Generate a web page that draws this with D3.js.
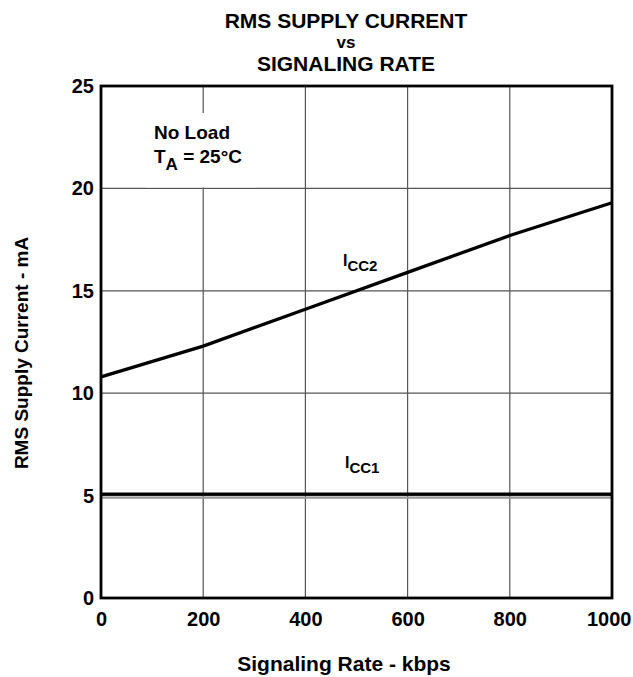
<!DOCTYPE html>
<html>
<head>
<meta charset="utf-8">
<script src="https://cdn.jsdelivr.net/npm/d3@7"></script>
<style>
body { margin: 0; background: #fff; }
text { font-family: "Liberation Sans", Arial, sans-serif; font-weight: bold; fill: #000; }
</style>
</head>
<body>
<script>
// data
var rateKbps = [0, 200, 400, 600, 800, 1000];
var icc2 = [10.8, 12.3, 14.1, 15.9, 17.7, 19.3];
var icc1 = [5.07, 5.07, 5.07, 5.07, 5.07, 5.07];
var icc1b = [4.9, 4.9, 4.9, 4.9, 4.9, 4.9];
var xTicks = [0, 200, 400, 600, 800, 1000];
var yTicks = [0, 5, 10, 15, 20, 25];
var titleLines = ["RMS SUPPLY CURRENT", "vs", "SIGNALING RATE"];

var width = 633, height = 677;
var margin = { top: 86, right: 21, bottom: 79, left: 101 };
var w = width - margin.left - margin.right;
var h = height - margin.top - margin.bottom;

var svg = d3.select("body").append("svg")
    .attr("width", width)
    .attr("height", height);

var x = d3.scaleLinear().domain([0, 1000]).range([0, w]);
var y = d3.scaleLinear().domain([0, 25]).range([h, 0]);

var g = svg.append("g")
    .attr("transform", "translate(" + margin.left + "," + margin.top + ")");

// grid
g.selectAll(".vgrid")
    .data(xTicks.slice(1, -1))
    .enter().append("line")
    .attr("x1", d => x(d)).attr("x2", d => x(d))
    .attr("y1", 0).attr("y2", h)
    .attr("stroke", "#555").attr("stroke-width", 1.2);

g.selectAll(".hgrid")
    .data(yTicks.slice(1, -1))
    .enter().append("line")
    .attr("x1", 0).attr("x2", w)
    .attr("y1", d => y(d)).attr("y2", d => y(d))
    .attr("stroke", "#555").attr("stroke-width", 1.2);

// white box behind the conditions note (grid 20 line stays visible)
g.append("rect")
    .attr("x", 45).attr("y", 27)
    .attr("width", 110).attr("height", y(20) - 27 - 1)
    .attr("fill", "#fff");

var line = d3.line()
    .x((d, i) => x(rateKbps[i]))
    .y(d => y(d));

// faint second trace just under ICC1
g.append("path")
    .datum(icc1b)
    .attr("d", line)
    .attr("fill", "none")
    .attr("stroke", "#999")
    .attr("stroke-width", 2);

g.append("path")
    .datum(icc1)
    .attr("d", line)
    .attr("fill", "none")
    .attr("stroke", "#000")
    .attr("stroke-width", 3.4);

g.append("path")
    .datum(icc2)
    .attr("d", line)
    .attr("fill", "none")
    .attr("stroke", "#000")
    .attr("stroke-width", 3.3);

// frame
g.append("rect")
    .attr("width", w).attr("height", h)
    .attr("fill", "none")
    .attr("stroke", "#000")
    .attr("stroke-width", 2.8);

// axes
var xAxis = d3.axisBottom(x).tickValues(xTicks).tickFormat(d3.format("d")).tickSize(0).tickPadding(14);
var yAxis = d3.axisLeft(y).tickValues(yTicks).tickFormat(d3.format("d")).tickSize(0).tickPadding(7);

var gx = g.append("g").attr("transform", "translate(0," + h + ")").call(xAxis);
var gy = g.append("g").call(yAxis);
[gx, gy].forEach(function(a) {
    a.select(".domain").remove();
    a.selectAll("text")
        .style("font-family", "'Liberation Sans', Arial, sans-serif")
        .style("font-weight", "bold")
        .style("font-size", "20px")
        .attr("fill", "#000");
});
// keep the last x label inside the page
gx.selectAll(".tick:last-of-type text")
    .attr("text-anchor", "end")
    .attr("x", 19);

// title
var titleY = [28, 48, 71];
svg.selectAll(".title")
    .data(titleLines)
    .enter().append("text")
    .attr("x", 346)
    .attr("y", (d, i) => titleY[i])
    .attr("text-anchor", "middle")
    .style("font-size", (d, i) => i === 1 ? "17px" : "21px")
    .text(d => d);

// axis titles
svg.append("text")
    .attr("x", 344)
    .attr("y", 671)
    .attr("text-anchor", "middle")
    .style("font-size", "21px")
    .text("Signaling Rate - kbps");

svg.append("text")
    .attr("transform", "translate(28,353) rotate(-90)")
    .attr("text-anchor", "middle")
    .style("font-size", "19px")
    .text("RMS Supply Current - mA");

// note
var note = g.append("g").style("font-size", "19px");
note.append("text").attr("x", 53).attr("y", 53).text("No Load");
var ta = note.append("text").attr("x", 53).attr("y", 77);
ta.append("tspan").text("T");
ta.append("tspan").attr("dy", 7).style("font-size", "17px").text("A");
ta.append("tspan").attr("dy", -7).text(" = 25\u00B0C");

// series labels
function subLabel(px, py, sub) {
    var t = g.append("text").attr("x", px).attr("y", py).style("font-size", "16px");
    t.append("tspan").text("I");
    t.append("tspan").attr("dy", 5).style("font-size", "15px").text(sub);
}
subLabel(242, 180, "CC2");
subLabel(244, 382, "CC1");
</script>
</body>
</html>
